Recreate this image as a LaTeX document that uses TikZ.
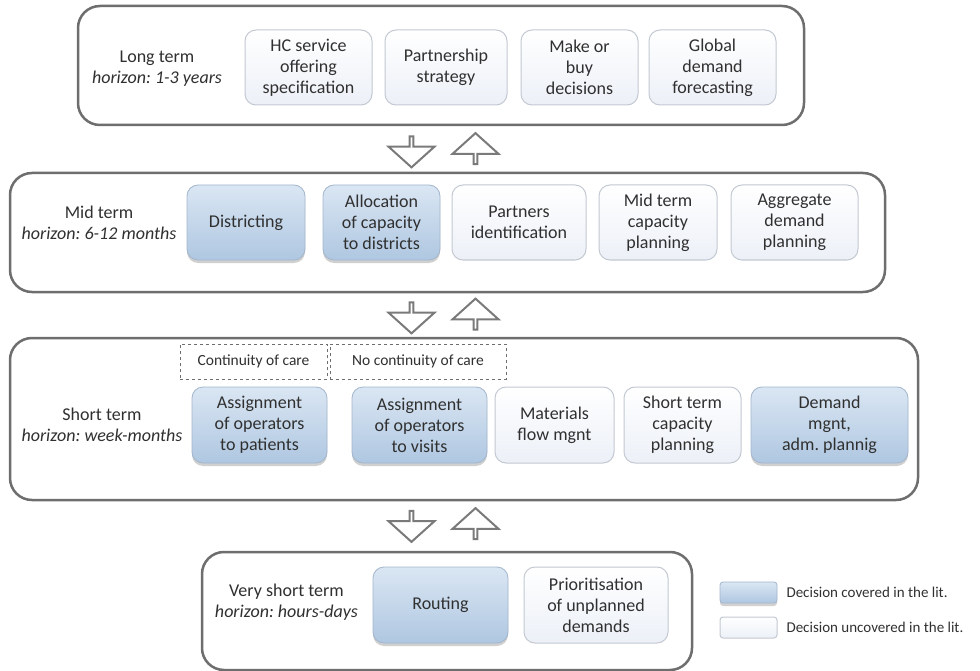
\documentclass[tikz,border=0pt]{standalone}
\usepackage{xcolor}
\usepackage{fontspec}
\setmainfont{Carlito}
\usepackage{tikz}
\usetikzlibrary{shapes.arrows,shadows}
\frenchspacing

\definecolor{txtgray}{HTML}{303030}
\definecolor{panelline}{HTML}{6E6E6E}
\definecolor{covtop}{HTML}{DAE6F3}
\definecolor{covbot}{HTML}{AFC7E1}
\definecolor{covline}{HTML}{A3B6CC}
\definecolor{unctop}{HTML}{FFFFFF}
\definecolor{uncbot}{HTML}{ECF0F7}
\definecolor{uncline}{HTML}{C3C9D2}
\definecolor{arrline}{HTML}{7A7A7A}

\tikzset{
  panel/.style={draw=panelline, line width=2.5pt, rounded corners=22pt,
    fill=white, inner sep=0pt},
  decision/.style={rounded corners=11pt, align=center, inner sep=0pt,
    text=txtgray, font=\fontsize{18}{21}\selectfont},
  covered/.style={decision, draw=covline, line width=0.8pt,
    top color=covtop, bottom color=covbot,
    drop shadow={shadow xshift=0pt, shadow yshift=-3pt, opacity=0.3, fill=black!60}},
  uncovered/.style={decision, draw=uncline, line width=1pt,
    top color=unctop, bottom color=uncbot},
  choice/.style={draw=panelline, dashed, line width=0.8pt, fill=white,
    inner sep=0pt, text=txtgray, font=\fontsize{15.5}{18}\selectfont},
  horizon/.style={align=center, text=txtgray, font=\fontsize{18}{21}\selectfont},
  goesdown/.style={single arrow, shape border rotate=270, draw=arrline,
    line width=2pt, fill=white, minimum height=31pt, minimum width=46pt,
    single arrow head extend=11pt, single arrow tip angle=96, inner sep=0pt},
  goesup/.style={goesdown, shape border rotate=90},
  legendtxt/.style={anchor=west, text=txtgray, font=\fontsize{15}{18}\selectfont},
}

\begin{document}
\begin{tikzpicture}[x=1pt, y=-1pt]
		\useasboundingbox (0,0) rectangle (980,671);
		% Panels
		\node[panel, minimum width=726pt, minimum height=119pt] (longP) at (441, 65.5) {};
		\node[panel, minimum width=875pt, minimum height=119pt] (midP) at (447.5, 232.5) {};
		\node[panel, minimum width=908pt, minimum height=162pt] (shortP) at (464, 419) {};
		\node[panel, minimum width=490pt, minimum height=118pt] (vshortP) at (447, 611) {};
		% Horizon labels
		\node[horizon] (longL) at (157, 69) {Long term\\\textit{horizon: 1-3 years}};
		\node[horizon] (midL) at (99, 223) {Mid term\\\textit{horizon: 6-12 months}};
		\node[horizon] (shortL) at (102, 425) {Short term\\\textit{horizon: week-months}};
		\node[horizon] (vshortL) at (286.5, 602) {Very short term\\\textit{horizon: hours-days}};
		% Decisions
		%% Long term
		\node[uncovered, minimum width=127pt, minimum height=75pt] (hcserv) at (308.5, 67.5) {HC service\\offering\\specification};
		\node[uncovered, minimum width=122pt, minimum height=75pt] (partstrat) at (446, 67.5) {Partnership\\strategy};
		\node[uncovered, minimum width=117pt, minimum height=75pt] (makebuy) at (579.5, 67.5) {Make or\\buy\\decisions};
		\node[uncovered, minimum width=127pt, minimum height=75pt] (globdem) at (712.5, 67.5) {Global\\demand\\forecasting};
		%% Mid term
		\node[covered, minimum width=118pt, minimum height=75pt] (distr) at (246, 222.5) {Districting};
		\node[covered, minimum width=117pt, minimum height=75pt] (alloc) at (381.5, 222.5) {Allocation\\of capacity\\to districts};
		\node[uncovered, minimum width=134pt, minimum height=75pt] (partid) at (519, 222.5) {Partners\\identification};
		\node[uncovered, minimum width=118pt, minimum height=75pt] (midcap) at (658, 222.5) {Mid term\\capacity\\planning};
		\node[uncovered, minimum width=127pt, minimum height=75pt] (aggdem) at (794.5, 222.5) {Aggregate\\demand\\planning};
		%% Short term
		\node[choice, minimum width=147pt, minimum height=35pt] (contin) at (253.5, 361.5) {Continuity of care};
		\node[choice, minimum width=176pt, minimum height=35pt] (nocontin) at (418, 361.5) {No continuity of care};
		\node[covered, minimum width=135pt, minimum height=76pt] (assignpat) at (259.5, 425) {Assignment\\of operators\\to patients};
		\node[covered, minimum width=135pt, minimum height=76pt] (assignvis) at (419.5, 425) {Assignment\\of operators\\to visits};
		\node[uncovered, minimum width=119pt, minimum height=76pt] (matflow) at (554.5, 425) {Materials\\flow mgnt};
		\node[uncovered, minimum width=117pt, minimum height=76pt] (shortcap) at (682.5, 425) {Short term\\capacity\\planning};
		\node[covered, minimum width=157pt, minimum height=76pt] (demmgnt) at (829.5, 425) {Demand\\mgnt,\\adm. plannig};
		%% Very short term
		\node[covered, minimum width=135pt, minimum height=76pt] (routing) at (440.5, 605) {Routing};
		\node[uncovered, minimum width=144pt, minimum height=76pt] (prior) at (596, 605) {Prioritisation\\of unplanned\\demands};
		% Arrows between levels
		\node[goesdown] (down1) at (411.5, 151) {};
		\node[goesup] (up1) at (475.5, 149.5) {};
		\node[goesdown] (down2) at (411.5, 317) {};
		\node[goesup] (up2) at (475.5, 315) {};
		\node[goesdown] (down3) at (411.5, 525.5) {};
		\node[goesup] (up3) at (475.5, 524.5) {};
		% Legend
		\node[covered, minimum width=57pt, minimum height=21pt, rounded corners=3pt] (legcov) at (748.5, 592.5) {};
		\node[uncovered, minimum width=57pt, minimum height=21pt, rounded corners=3pt] (legunc) at (748.5, 627.5) {};
		\node[legendtxt] (legcovT) at (783, 592.5) {Decision covered in the lit.};
		\node[legendtxt] (leguncT) at (783, 627.5) {Decision uncovered in the lit.};
	\end{tikzpicture}
\end{document}
